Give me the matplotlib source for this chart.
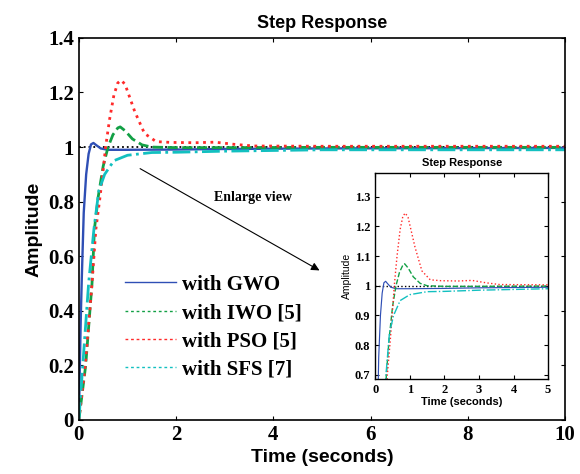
import numpy as np
import matplotlib
matplotlib.use("Agg")
import matplotlib.pyplot as plt
from matplotlib.lines import Line2D
from matplotlib.ticker import FuncFormatter

# step response data
t_gwo = [0, 0.02, 0.04, 0.06, 0.1, 0.15, 0.2, 0.25, 0.3, 0.35, 0.45, 0.6, 1, 2, 3, 5, 10]
y_gwo = [0, 0.2, 0.38, 0.52, 0.76, 0.9, 0.975, 1.01, 1.015, 1.008, 0.995, 0.99, 0.99, 0.991, 0.993, 0.995, 0.997]

t_iwo = [0, 0.14, 0.27, 0.32, 0.4, 0.5, 0.6, 0.7, 0.8, 0.85, 0.95, 1.1, 1.3, 1.5, 2, 3, 5, 10]
y_iwo = [0, 0.2, 0.5, 0.7, 0.82, 0.93, 1.0, 1.045, 1.07, 1.074, 1.06, 1.03, 1.008, 1.0, 0.998, 0.998, 0.999, 0.999]

t_pso = [0, 0.13, 0.27, 0.35, 0.43, 0.49, 0.55, 0.63, 0.72, 0.8, 0.87, 0.95, 1.01, 1.15,
         1.35, 1.59, 1.9, 2.4, 2.8, 3.2, 3.6, 5, 10]
y_pso = [0, 0.2, 0.5, 0.7, 0.81, 0.9, 1.0, 1.1, 1.19, 1.235, 1.245, 1.23, 1.2, 1.13,
         1.05, 1.02, 1.017, 1.016, 1.018, 1.01, 1.004, 1.003, 1.003]

t_sfs = [0, 0.08, 0.2, 0.31, 0.41, 0.53, 0.72, 1.0, 1.5, 2, 3, 5, 10]
y_sfs = [0, 0.2, 0.5, 0.7, 0.84, 0.9, 0.95, 0.97, 0.98, 0.981, 0.985, 0.99, 0.99]

t_ref = [0, 10]
y_ref = [1, 1]

labels = ['with GWO', 'with IWO [5]', 'with PSO [5]', 'with SFS [7]']
colors = ['#2f4fb5', '#12a045', '#ff2a2a', '#12c0c0']

serif = 'Liberation Serif'
sans = 'Liberation Sans'
fmt = FuncFormatter(lambda v, p: '%g' % round(v, 3))


def draw_curves(ax, lw, ref_lw):
    ax.plot(t_ref, y_ref, ':', color='k', lw=ref_lw, zorder=1)
    ax.plot(t_gwo, y_gwo, '-', color=colors[0], lw=lw * 0.85)
    ax.plot(t_iwo, y_iwo, '--', color=colors[1], lw=lw)
    ax.plot(t_pso, y_pso, ':', color=colors[2], lw=lw)
    ax.plot(t_sfs, y_sfs, '-.', color=colors[3], lw=lw)


def style(ax, size, spine_lw):
    ax.tick_params(direction='in', top=True, right=True, length=3, width=0.8)
    for lab in ax.get_xticklabels() + ax.get_yticklabels():
        lab.set_fontfamily(serif)
        lab.set_fontweight('bold')
        lab.set_fontsize(size)
    for s in ax.spines.values():
        s.set_linewidth(spine_lw)
    ax.xaxis.set_major_formatter(fmt)
    ax.yaxis.set_major_formatter(fmt)


fig = plt.figure(figsize=(5.8, 4.74), dpi=100)
ax = fig.add_axes([0.136, 0.114, 0.838, 0.806])
draw_curves(ax, 2.0, 1.3)
ax.set_xlim(0, 10)
ax.set_ylim(0, 1.4)
ax.set_xticks(np.arange(0, 11, 2))
ax.set_yticks(np.arange(0, 1.41, 0.2))
style(ax, 15, 1.2)
ax.set_title('Step Response', fontfamily=sans, fontweight='bold', fontsize=13, pad=7)
ax.set_xlabel('Time (seconds)', fontfamily=sans, fontweight='bold', fontsize=14, labelpad=3)
ax.set_ylabel('Amplitude', fontfamily=sans, fontweight='bold', fontsize=14, labelpad=4)

handles = [Line2D([], [], color=colors[0], lw=1.0, ls='-')]
handles += [Line2D([], [], color=c, lw=1.0, ls=(0, (2, 2))) for c in colors[1:]]
ax.legend(handles, labels, loc='upper left', bbox_to_anchor=(0.095, 0.38), frameon=False,
          borderpad=0, borderaxespad=0, handlelength=2.45, handletextpad=0.3,
          labelspacing=0.4, prop={'family': serif, 'weight': 'bold', 'size': 15})

ax.annotate('', xy=(5.0, 0.543), xytext=(1.21, 0.926),
            arrowprops=dict(arrowstyle='-|>', color='k', lw=0.8, mutation_scale=12))
ax.text(3.58, 0.817, 'Enlarge view', fontfamily=serif, fontweight='bold', fontsize=10,
        ha='center', va='center')

ins = fig.add_axes([0.647, 0.200, 0.298, 0.435])
draw_curves(ins, 1.0, 1.0)
ins.set_xlim(0, 5)
ins.set_ylim(0.685, 1.38)
ins.set_xticks(np.arange(0, 6, 1))
ins.set_yticks(np.arange(0.7, 1.31, 0.1))
style(ins, 9, 1.0)
ins.set_title('Step Response', fontfamily=sans, fontweight='bold', fontsize=8, pad=5)
ins.set_xlabel('Time (seconds)', fontfamily=sans, fontweight='bold', fontsize=8, labelpad=1)
ins.set_ylabel('Amplitude', fontfamily=sans, fontsize=7.5, labelpad=2)

fig.savefig('out.png', dpi=100)
